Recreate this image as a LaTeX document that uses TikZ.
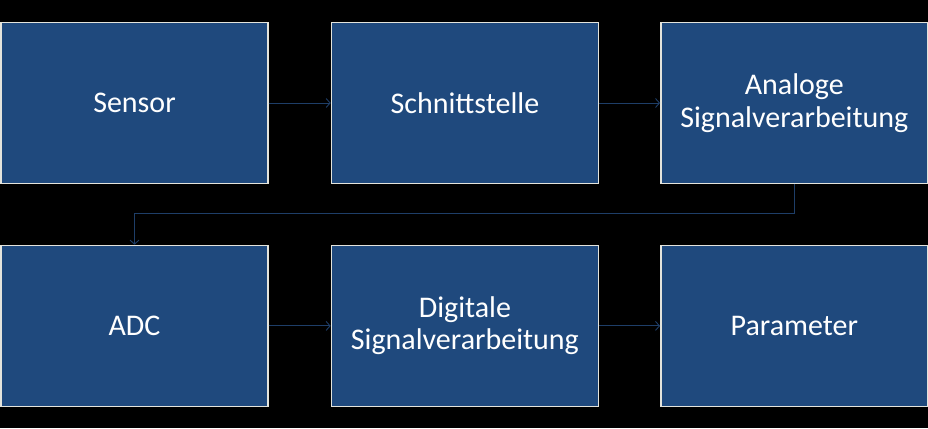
\documentclass[tikz,border=0pt]{standalone}
\usepackage{fontspec}
\setmainfont{Carlito}
\usetikzlibrary{positioning,arrows.meta}

\definecolor{boxfill}{RGB}{31,73,125}
\definecolor{boxline}{RGB}{228,228,220}
\definecolor{flow}{RGB}{30,62,104}

\tikzset{
  stage/.style={rectangle,fill=boxfill,draw=boxline,line width=1.4pt,
    minimum width=267pt,minimum height=161pt,inner sep=0pt,
    text=white,align=center,font=\fontsize{30}{32.5}\selectfont},
  flowline/.style={flow,line width=0.9pt,-{Straight Barb[length=4pt,width=9pt]}}
}

\begin{document}
\begin{tikzpicture}[node distance=60.5pt and 62pt]
  % background and frame
  \fill[black] (0,0) rectangle (928pt,-428pt);
  \useasboundingbox (0,0) rectangle (928pt,-428pt);

  % first row
  \node[stage] (sensor) at (134.5pt,-103pt) {Sensor};
  \node[stage,right=of sensor] (schnitt) {Schnittstelle};
  \node[stage,right=61pt of schnitt] (analog) {Analoge\\Signalverarbeitung};

  % second row
  \node[stage,below=of sensor] (adc) {ADC};
  \node[stage,right=of adc] (digital) {Digitale\\Signalverarbeitung};
  \node[stage,right=61pt of digital] (param) {Parameter};

  % connectors
  \draw[flowline] (sensor) -- (schnitt);
  \draw[flowline] (schnitt) -- (analog);
  \draw[flowline] (analog.south) -- ++(0,-29.5pt) -| (adc.north);
  \draw[flowline] (adc) -- (digital);
  \draw[flowline] (digital) -- (param);
\end{tikzpicture}
\end{document}
